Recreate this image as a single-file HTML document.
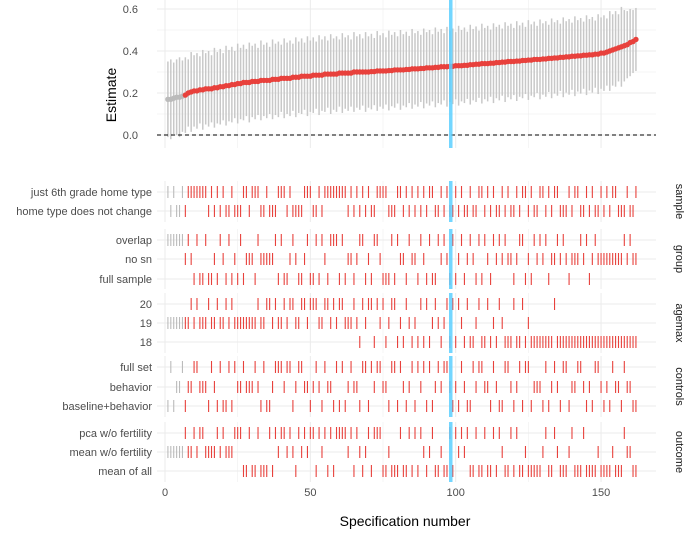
<!DOCTYPE html>
<html><head><meta charset="utf-8"><style>
body{margin:0;background:#fff}
svg{font-family:"Liberation Sans",sans-serif}
</style></head><body>
<svg id="chart" width="685" height="530" xmlns="http://www.w3.org/2000/svg"></svg>
<script>
const estimates=[.17,.17,.175,.18,.18,.185,.19,.20,.205,.21,
.21,.215,.215,.22,.22,.22,.225,.225,.23,.23,
.235,.235,.24,.24,.245,.245,.25,.25,.25,.255,
.255,.255,.26,.26,.26,.26,.265,.265,.265,.27,
.27,.27,.27,.275,.275,.275,.28,.28,.28,.28,
.285,.285,.285,.285,.29,.29,.29,.29,.29,.295,
.295,.295,.295,.295,.30,.30,.30,.30,.30,.30,
.302,.302,.305,.305,.305,.305,.307,.307,.31,.31,
.31,.31,.312,.312,.315,.315,.315,.317,.317,.32,
.32,.32,.322,.322,.325,.325,.325,.327,.327,.33,
.33,.33,.332,.332,.335,.335,.337,.337,.34,.34,
.34,.342,.342,.345,.345,.347,.347,.35,.35,.35,
.352,.352,.355,.355,.357,.357,.36,.36,.36,.362,
.362,.365,.365,.367,.367,.37,.37,.372,.372,.375,
.375,.377,.377,.38,.38,.382,.382,.385,.385,.39,
.39,.395,.40,.405,.41,.415,.42,.425,.43,.44,
.445,.455];
const halfWidths=[.18,.19,.17,.18,.19,.17,.18,.16,.19,.17,
.18,.16,.19,.17,.18,.16,.19,.17,.18,.16,
.19,.17,.18,.16,.19,.17,.18,.16,.19,.17,
.18,.16,.19,.17,.18,.16,.19,.17,.18,.16,
.19,.17,.18,.16,.19,.17,.18,.16,.19,.17,
.18,.16,.19,.17,.18,.16,.19,.17,.18,.16,
.19,.17,.18,.16,.19,.17,.18,.16,.19,.17,
.18,.16,.19,.17,.18,.16,.19,.17,.18,.16,
.19,.17,.18,.16,.19,.17,.18,.16,.19,.17,
.18,.16,.19,.17,.18,.16,.19,.17,.18,.16,
.19,.17,.18,.16,.19,.17,.18,.16,.19,.17,
.18,.16,.19,.17,.18,.16,.19,.17,.18,.16,
.19,.17,.18,.16,.19,.17,.18,.16,.19,.17,
.18,.16,.19,.17,.18,.16,.19,.17,.18,.16,
.19,.17,.18,.16,.19,.17,.18,.16,.19,.17,
.18,.16,.19,.17,.18,.16,.19,.17,.16,.16,
.15,.15];
const yTicks=[0,0.2,0.4,0.6];
const xTicks=[0,50,100,150];
const highlightSpec=98.3;
const nonSigCount=6;
const sampleCodes="0101101000"+"0000101010"+"1101110010"+"0011011100"+"0101111000"+"1101000000"+"0010101010"+"1100001110"+"0101010101"+"0011010110"+"1011011001"+"0101101011"+"0100101100"+"1010011101"+"0011010110"+"1010011101"+"10";
const groupCodes="0000001012"+"0220221201"+"2021202111"+"2011111020"+"2210122102"+"2020120002"+"0211210021"+"2001222020"+"1120112012"+"0220101202"+"1021012020"+"1201010112"+"1002120101"+"0211010121"+"1101021011"+"1111111010"+"11";
// agemax codes: 0 = 20, 1 = 19, 2 = 18
const agemaxCodes="1111111101"+"0111011011"+"0101111111"+"1011001011"+"0100110010"+"0011001010"+"0111012010"+"0201021002"+"1201212020"+"2101210202"+"0120221022"+"0212012220"+"2202122222"+"2220222222"+"2222222222"+"2222222222"+"22";
const controlsCodes="2021102110"+"0111201202"+"2020110111"+"0120221000"+"1002100112"+"1012011202"+"0210112002"+"0100112002"+"0121020102"+"0210100121"+"2012201001"+"1201220012"+"1020021112"+"0210120021"+"1001212001"+"2120112011"+"22";
const outcomeCodes="1111110110"+"1001111010"+"1110002202"+"2022202010"+"0101201010"+"0201020200"+"0010201210"+"2000221222"+"0220202012"+"1022122020"+"1010220220"+"2202012202"+"0221222221"+"0220122210"+"2220222212"+"2221222011"+"22";
const panels=[
 {name:"sample",labels:["just 6th grade home type","home type does not change"],codes:sampleCodes,rows:[192,211],top:181,bot:222},
 {name:"group",labels:["overlap","no sn","full sample"],codes:groupCodes,rows:[240,259,279],top:229,bot:289},
 {name:"agemax",labels:["20","19","18"],codes:agemaxCodes,rows:[304,323,342],top:293,bot:353},
 {name:"controls",labels:["full set","behavior","baseline+behavior"],codes:controlsCodes,rows:[367,387,406],top:356,bot:417},
 {name:"outcome",labels:["pca w/o fertility","mean w/o fertility","mean of all"],codes:outcomeCodes,rows:[433,452,471],top:422,bot:482}
];
const svg=document.getElementById('chart');
const NS="http://www.w3.org/2000/svg";
const xs=v=>165+v*2.907;
const ys=v=>135-v*210;
const L=157,R=656;
function mk(tag,at,txt){const e=document.createElementNS(NS,tag);for(const k in at)e.setAttribute(k,at[k]);if(txt!==undefined)e.textContent=txt;svg.appendChild(e);return e;}
for(let k=-1;k<=6;k++){const v=k/10;const y=ys(v);if(y<0||y>148)continue;const g=mk('line',{x1:L,x2:R,y1:y,y2:y,stroke:'#ebebeb','stroke-width':k%2==0?1:0.5});}
for(let v=0;v<=160;v+=25){const x=xs(v);const g=mk('line',{x1:x,x2:x,y1:0,y2:148,stroke:'#ebebeb','stroke-width':v%50==0?1:0.5});}
yTicks.forEach(t=>{const e=mk('text',{x:138,y:ys(t)+4,'text-anchor':'end','font-size':11,fill:'#4d4d4d'},t.toFixed(1));});
const yt=mk('text',{x:116,y:95,'text-anchor':'middle','font-size':14,fill:'#000',transform:'rotate(-90 116 95)'},'Estimate');

estimates.forEach((e,i)=>{const x=xs(i+1);const b=mk('line',{x1:x,x2:x,y1:ys(e+halfWidths[i]),y2:ys(e-halfWidths[i]),stroke:'#c8c8c8','stroke-width':1.5});});
const z=mk('line',{x1:L,x2:R,y1:ys(0),y2:ys(0),stroke:'#000','stroke-dasharray':'4,3','stroke-width':1});

estimates.forEach((e,i)=>{const p=mk('circle',{cx:xs(i+1),cy:ys(e),r:2.7,fill:i<nonSigCount?'#bbbbbb':'#e8413c'});});
panels.forEach(p=>{
 p.rows.forEach(y=>{const g=mk('line',{x1:L,x2:R,y1:y,y2:y,stroke:'#ebebeb'});});
 for(let v=0;v<=160;v+=25){const x=xs(v);const g=mk('line',{x1:x,x2:x,y1:p.top,y2:p.bot,stroke:'#ebebeb','stroke-width':v%50==0?1:0.5});}
 p.labels.forEach((l,j)=>{const t=mk('text',{x:152,y:p.rows[j]+4,'text-anchor':'end','font-size':11,fill:'#4d4d4d'},l);});
 for(let i=0;i<p.codes.length;i++){const j=+p.codes[i];const x=xs(i+1),y=p.rows[j];const m=mk('line',{x1:x,x2:x,y1:y-6,y2:y+6,stroke:i<nonSigCount?'#bbbbbb':'#e8413c','stroke-width':1.1});}
 const cy=(p.top+p.bot)/2;
 const s=mk('text',{x:676,y:cy,'text-anchor':'middle','font-size':11,fill:'#1a1a1a',transform:`rotate(90 676 ${cy})`},p.name);
 
});
[[0,148]].concat(panels.map(p=>[p.top,p.bot])).forEach(r=>{const h=mk('line',{x1:xs(highlightSpec),x2:xs(highlightSpec),y1:r[0],y2:r[1],stroke:'#5bcfff','stroke-width':3.5,opacity:0.85});});
xTicks.forEach(t=>{const e=mk('text',{x:xs(t),y:496,'text-anchor':'middle','font-size':11,fill:'#4d4d4d'},t);});
const xt=mk('text',{x:405,y:526,'text-anchor':'middle','font-size':14,fill:'#000'},'Specification number');

</script>
</body></html>
